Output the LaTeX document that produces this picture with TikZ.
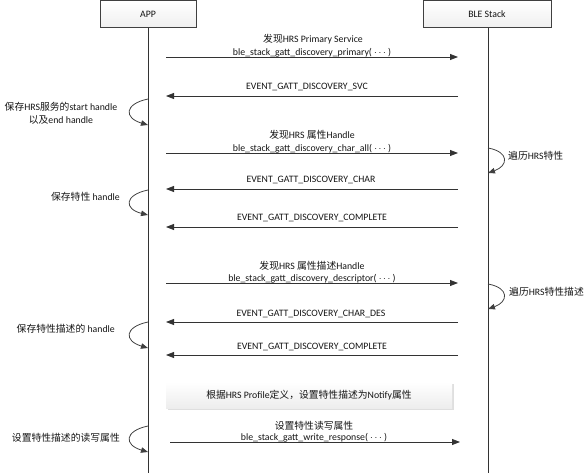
\documentclass[tikz,border=0pt]{standalone}
\usepackage{fontspec}
\setmainfont{Carlito}
\newfontfamily\cjkfont{Noto Sans CJK SC}
\newcommand\zhs[1]{{\cjkfont #1}}
\newcommand\dotsarg{( $\cdots$ )}
\usetikzlibrary{arrows.meta,shadows}

\definecolor{ink}{HTML}{333333}
\definecolor{edge}{HTML}{404040}

\tikzset{
  every node/.style={font=\fontsize{9.8}{12}\selectfont, text=black!92, inner sep=0pt},
  actor/.style={draw=edge, line width=0.8pt, top color=white, bottom color=black!6,
                minimum width=96pt, minimum height=27pt, anchor=north},
  lifeline/.style={draw=ink, line width=0.8pt},
  msg/.style={draw=ink, line width=0.8pt, -{Triangle[length=8pt,width=6pt]}},
  selfloop/.style={draw=edge, line width=0.8pt, -{Triangle[length=7pt,width=5.5pt]}},
  lbl/.style={anchor=base},
  note/.style={top color=white, bottom color=black!7, minimum width=286pt, minimum height=26pt,
               drop shadow={opacity=0.25, shadow xshift=1.5pt, shadow yshift=-1.5pt}}
}

\begin{document}
\begin{tikzpicture}[x=1pt,y=-1pt]
\useasboundingbox (0,0) rectangle (586,473);

% participants
\node[actor] (app) at (148,0) {APP};
\node[actor, minimum width=128pt] (ble) at (487,0) {BLE Stack};
\coordinate (append) at (148,473);
\coordinate (bleend) at (488,473);
\draw[lifeline] (app.south) -- (append);
\draw[lifeline] (ble.south -| bleend) -- (bleend);

% discover primary service
\coordinate (m1a) at (166,57);  \coordinate (m1b) at (458,57);
\draw[msg] (m1a) -- (m1b);
\node[lbl] (m1t) at (313,43) {\zhs{发现}HRS Primary Service};
\node[lbl] (m1c) at (312,55.5) {ble\_stack\_gatt\_discovery\_primary\dotsarg};

\coordinate (m2a) at (458,96);  \coordinate (m2b) at (166,96);
\draw[msg] (m2a) -- (m2b);
\node[lbl] (m2t) at (307,90) {EVENT\_GATT\_DISCOVERY\_SVC};

% store service handles
\coordinate (s1a) at (148,99);  \coordinate (s1b) at (148,125);
\draw[selfloop] (s1a) .. controls (124,104) and (124,118) .. (s1b);
\node[align=center] (s1t) at (61,113) {\zhs{保存}HRS\zhs{服务的}start handle\\[1pt]\zhs{以及}end handle};

% discover characteristics
\coordinate (m3a) at (166,153); \coordinate (m3b) at (458,153);
\draw[msg] (m3a) -- (m3b);
\node[lbl] (m3t) at (312,139) {\zhs{发现}HRS \zhs{属性}Handle};
\node[lbl] (m3c) at (312,151.5) {ble\_stack\_gatt\_discovery\_char\_all\dotsarg};

\coordinate (b1a) at (488,148); \coordinate (b1b) at (488,173);
\draw[selfloop] (b1a) .. controls (510,152) and (508,166) .. (b1b);
\node[anchor=west] (b1t) at (508,156) {\zhs{遍历}HRS\zhs{特性}};

\coordinate (m4a) at (458,189); \coordinate (m4b) at (166,189);
\draw[msg] (m4a) -- (m4b);
\node[lbl] (m4t) at (311,183) {EVENT\_GATT\_DISCOVERY\_CHAR};

\coordinate (s2a) at (148,190); \coordinate (s2b) at (148,215);
\draw[selfloop] (s2a) .. controls (124,195) and (124,209) .. (s2b);
\node[anchor=east] (s2t) at (120,197) {\zhs{保存特性} handle};

\coordinate (m5a) at (458,227); \coordinate (m5b) at (166,227);
\draw[msg] (m5a) -- (m5b);
\node[lbl] (m5t) at (312,221) {EVENT\_GATT\_DISCOVERY\_COMPLETE};

% discover descriptors
\coordinate (m6a) at (166,283); \coordinate (m6b) at (458,283);
\draw[msg] (m6a) -- (m6b);
\node[lbl] (m6t) at (312,269) {\zhs{发现}HRS \zhs{属性描述}Handle};
\node[lbl] (m6c) at (312,281.5) {ble\_stack\_gatt\_discovery\_descriptor\dotsarg};

\coordinate (b2a) at (488,284); \coordinate (b2b) at (488,309);
\draw[selfloop] (b2a) .. controls (510,288) and (508,302) .. (b2b);
\node[anchor=west] (b2t) at (509,292) {\zhs{遍历}HRS\zhs{特性描述}};

\coordinate (m7a) at (458,322); \coordinate (m7b) at (166,322);
\draw[msg] (m7a) -- (m7b);
\node[lbl] (m7t) at (311,316) {EVENT\_GATT\_DISCOVERY\_CHAR\_DES};

\coordinate (s3a) at (148,322); \coordinate (s3b) at (148,348);
\draw[selfloop] (s3a) .. controls (124,327) and (124,341) .. (s3b);
\node[anchor=east] (s3t) at (115,329) {\zhs{保存特性描述的} handle};

\coordinate (m8a) at (458,355); \coordinate (m8b) at (166,355);
\draw[msg] (m8a) -- (m8b);
\node[lbl] (m8t) at (312,349) {EVENT\_GATT\_DISCOVERY\_COMPLETE};

% profile note
\node[note] (nt) at (309,395) {\zhs{根据}HRS Profile\zhs{定义，设置特性描述为}Notify\zhs{属性}};

% write descriptor
\coordinate (m9a) at (170,442); \coordinate (m9b) at (460,442);
\draw[msg] (m9a) -- (m9b);
\node[lbl] (m9t) at (314,429) {\zhs{设置特性读写属性}};
\node[lbl] (m9c) at (314,440.5) {ble\_stack\_gatt\_write\_response\dotsarg};

\coordinate (s4a) at (148,426); \coordinate (s4b) at (148,452);
\draw[selfloop] (s4a) .. controls (124,431) and (124,445) .. (s4b);
\node[anchor=east] (s4t) at (120,438) {\zhs{设置特性描述的读写属性}};
\end{tikzpicture}
\end{document}
